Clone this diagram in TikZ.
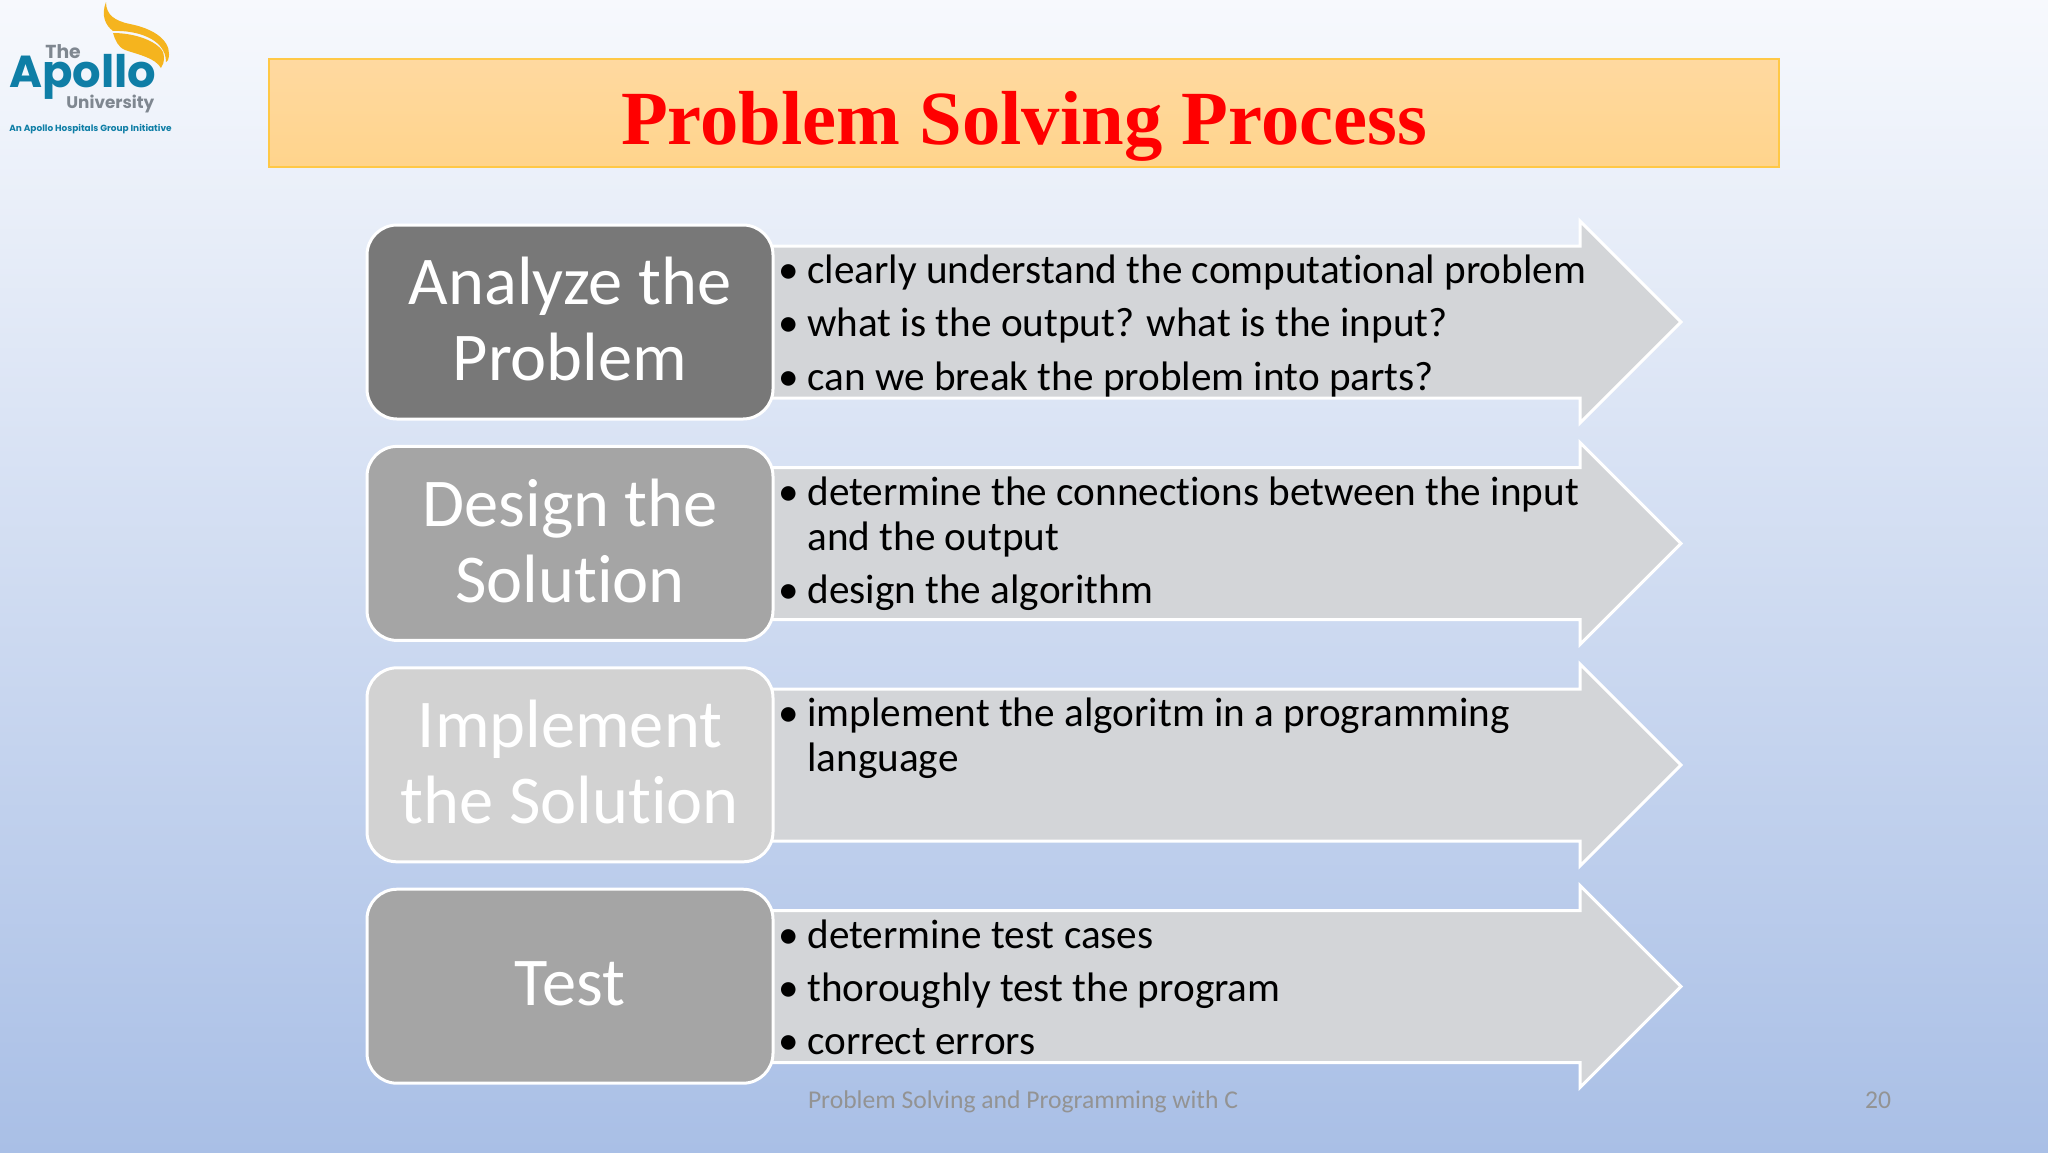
\documentclass[tikz,border=0pt]{standalone}
\usepackage{fontspec}
\setmainfont{Carlito}[Ligatures=NoCommon]
\newfontfamily\titlefont{Liberation Serif}
\newfontfamily\logofont{Poppins}
\usetikzlibrary{positioning}
\definecolor{logoblue}{HTML}{0F7EA6}
\definecolor{logogray}{HTML}{7F8790}
\definecolor{logogold}{HTML}{F5B41E}
\definecolor{arrowgray}{HTML}{D3D5D8}
\newcommand{\bulletline}[1]{\makebox[14.5pt][l]{\textbullet}\parbox[t]{420pt}{\raggedright #1}}
\newcommand{\boxlift}{\endgraf\vspace{2.6pt}}
\begin{document}
\begin{tikzpicture}[
		x=0.5pt, y=-0.5pt,
		stepbox/.style = {draw=white, line width=1.5pt, rounded corners=15pt, text=white, align=flush center, text width=190pt,
			minimum width=203pt, minimum height=97pt, font=\fontsize{34.2}{38}\selectfont,
			execute at end node=\boxlift},
		bigarrow/.style = {draw=white, line width=1.5pt, fill=arrowgray, line join=miter},
		itemtext/.style = {anchor=base west, inner sep=0pt, text=black, font=\fontsize{20.6}{22.7}\selectfont},
		footer/.style = {text=gray!85!white, font=\fontsize{12.8}{15}\selectfont, inner sep=0pt, anchor=base}]
		
		% slide background and heading
		\shade[top color={rgb,255:red,247;green,249;blue,253}, bottom color={rgb,255:red,169;green,191;blue,230}] (0,0) rectangle (2048,1152);
		\node[draw={rgb,255:red,255;green,200;blue,70}, line width=0.7pt, top color={rgb,255:red,255;green,217;blue,160}, bottom color={rgb,255:red,255;green,212;blue,140},
			minimum width=755pt, minimum height=54pt, inner sep=0pt] (head) at (1024,113) {};
		\node[text=red, font=\titlefont\bfseries\fontsize{38.3}{46}\selectfont, inner sep=0pt, anchor=base] (title) at (1024,144) {Problem Solving Process};
		
		% logo
		\fill[logogold] (106,2) .. controls (101,15) and (105,25) .. (113,31) .. controls (135,30) and (166,38) .. (166,62) -- (168,60)
			.. controls (173,45) and (160,30) .. (130,24) .. controls (115,21) and (106,15) .. (106,2) -- cycle;
		\fill[logogold] (113,33) .. controls (140,33) and (165,45) .. (164,57) .. controls (164,62) and (163,65) .. (161,68)
			.. controls (155,58) and (140,55) .. (125,50) .. controls (118,47) and (115,40) .. (113,33) -- cycle;
		\node[text=logogray, font=\logofont\bfseries\fontsize{9.4}{12}\selectfont, inner sep=0pt, anchor=base west] (lthe) at (45,58) {The};
		\node[text=logoblue, font=\logofont\bfseries\fontsize{22.4}{26}\selectfont, inner sep=0pt, anchor=base west] (lapollo) at (9,87) {Apollo};
		\node[text=logogray, font=\logofont\bfseries\fontsize{8.4}{11}\selectfont, inner sep=0pt, anchor=base west] (luni) at (66,108) {University};
		\node[text=logoblue, font=\logofont\bfseries\fontsize{4.47}{6}\selectfont, inner sep=0pt, anchor=base west] (ltag) at (9,131) {An Apollo Hospitals Group Initiative};
		
		% the four arrows, the boxes lie on top of them
		\foreach \cy in {322,543.5,765,986.5}
		\draw[bigarrow] (740,\cy-76) -- (1580,\cy-76) -- (1580,\cy-101) -- (1681,\cy) -- (1580,\cy+101) -- (1580,\cy+76) -- (740,\cy+76) -- cycle;
		
		\node[stepbox, fill={rgb,255:red,120;green,120;blue,120}] (b1) at (570,322) {Analyze the\\Problem};
		\node[stepbox, fill={rgb,255:red,165;green,165;blue,165}, below=12.2pt of b1] (b2) {Design the\\Solution};
		\node[stepbox, fill={rgb,255:red,210;green,210;blue,210}, below=12.2pt of b2] (b3) {Implement\\the Solution};
		\node[stepbox, fill={rgb,255:red,165;green,165;blue,165}, below=12.2pt of b3] (b4) {Test};
		
		% the bulleted lines, by baseline
		\foreach \yy/\txt [count=\n] in {
			283/clearly understand the computational problem,
			336/what is the output? what is the input?,
			390/can we break the problem into parts?,
			505/determine the connections between the input\\and the output,
			603/design the algorithm,
			726/implement the algoritm in a programming\\language,
			948/determine test cases,
			1001/thoroughly test the program,
			1054/correct errors}
		\node[itemtext] (i\n) at (778,\yy) {\bulletline{\txt}};
		
		% footer
		\node[footer] (foot) at (1023,1108) {Problem Solving and Programming with C};
		\node[footer] (page) at (1878,1108) {20};
		\end{tikzpicture}
\end{document}
